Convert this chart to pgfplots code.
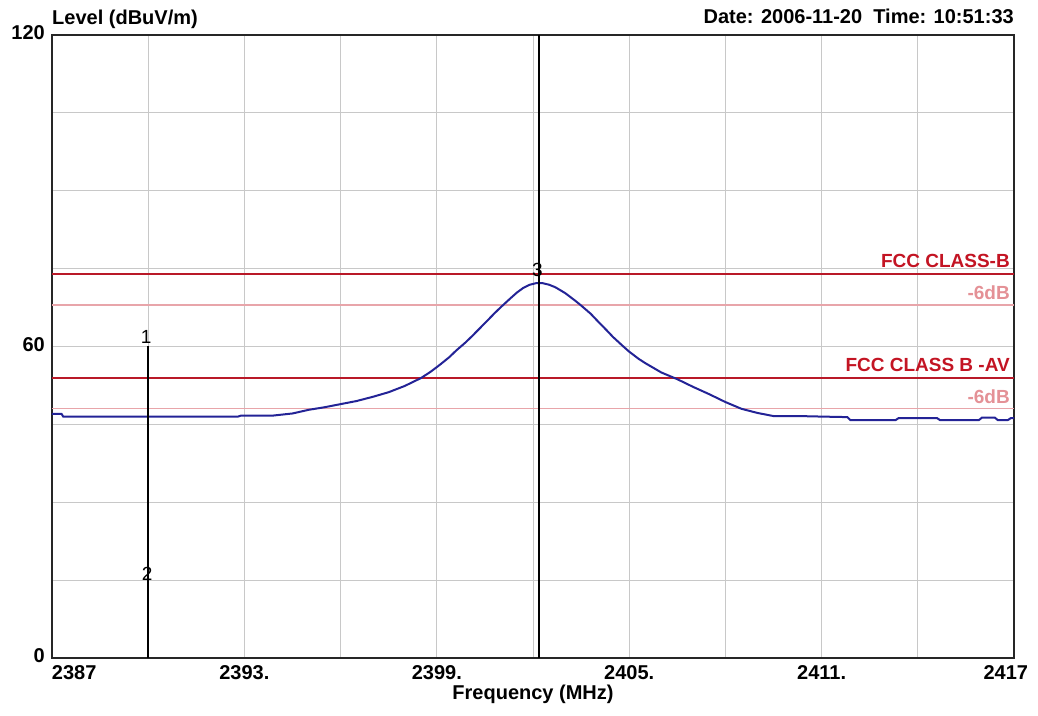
\documentclass[border=0pt]{standalone}
\usepackage{pgfplots}
\pgfplotsset{compat=1.18}
\usepackage{fontspec}
\setmainfont{Liberation Sans}
\definecolor{fccred}{RGB}{185,25,40}
\definecolor{fccredtext}{RGB}{195,20,35}
\definecolor{fccpink}{RGB}{232,165,170}
\definecolor{fccpinktext}{RGB}{228,145,150}
\definecolor{navycurve}{RGB}{35,35,150}
\definecolor{gridgray}{RGB}{200,200,200}
\begin{document}
\begin{tikzpicture}
\useasboundingbox (-52pt,-57pt) rectangle (986pt,658pt);
\begin{axis}[
  at={(0pt,0pt)}, anchor=south west,
  scale only axis, width=962pt, height=623pt,
  xmin=2387, xmax=2417, ymin=0, ymax=120,
  xtick={2387,2390,...,2417},
  xticklabels={,,2393.,,2399.,,2405.,,2411.,,},
  extra x ticks={2387,2417},
  extra x tick labels={\rlap{2387},\llap{2417\hspace{-14pt}}},
  extra x tick style={grid=none},
  ytick={0,15,...,120},
  yticklabels={0,,,,60,,,,120},
  major tick length=0pt,
  grid=major,
  grid style={gridgray, line width=1pt},
  axis line style={line width=1.8pt, black!85},
  tick label style={font=\fontsize{20}{22}\selectfont\bfseries, inner sep=0pt},
  xticklabel style={anchor=north, yshift=-7pt},
  yticklabel style={anchor=east, xshift=-7pt, yshift=2pt},
  no markers,
  clip=false,
]
\addplot[draw=fccred, line width=1.8pt] coordinates {(2387,74) (2417,74)};
\addplot[draw=fccpink, line width=1.3pt] coordinates {(2387,68) (2417,68)};
\addplot[draw=fccred, line width=1.8pt] coordinates {(2387,54) (2417,54)};
\addplot[draw=fccpink, line width=1.3pt] coordinates {(2387,48) (2417,48)};
\addplot[draw=navycurve, line width=2pt] coordinates {
(2387,47.0) (2387.3,47.0) (2387.35,46.5) (2392.8,46.5) (2392.9,46.7) (2393.9,46.7)
(2394.5,47.1) (2395.0,47.8) (2395.5,48.3) (2396.0,48.9) (2396.5,49.5) (2397.0,50.3)
(2397.5,51.2) (2398.0,52.4) (2398.5,53.9) (2398.8,55.1) (2399.1,56.5) (2399.4,58.0) (2399.6,59.2) (2399.9,60.8) (2400.1,62.0)
(2400.5,64.5) (2400.8,66.4) (2401.0,67.6) (2401.3,69.3) (2401.5,70.4) (2401.7,71.3) (2401.9,71.9) (2402.1,72.2) (2402.3,72.2) (2402.5,71.9)
(2402.7,71.4) (2403.0,70.3) (2403.3,68.9) (2403.5,67.9) (2403.8,66.3) (2404.0,65.0) (2404.3,63.1) (2404.5,61.8) (2404.8,60.1) (2405.0,59.0) (2405.3,57.6) (2405.5,56.8)
(2406.0,55.0) (2406.5,53.7) (2407.0,52.2) (2407.5,50.8) (2408.0,49.3) (2408.5,48.0)
(2409.0,47.2) (2409.5,46.6) (2410.3,46.6) (2411.0,46.5) (2411.8,46.4) (2411.9,45.8)
(2413.3,45.8) (2413.4,46.2) (2414.6,46.2) (2414.7,45.8) (2415.9,45.8) (2416.0,46.3)
(2416.4,46.3) (2416.5,45.8) (2416.8,45.8) (2416.9,46.2) (2417,46.2)
};
\addplot[draw=black, line width=2pt] coordinates {(2390,0) (2390,60)};
\addplot[draw=black, line width=2pt] coordinates {(2402.2,0) (2402.2,120)};
\node[anchor=south, inner sep=0pt, font=\fontsize{19}{21}\selectfont, xshift=-2pt, yshift=3pt] at (axis cs:2390,60) {1};
\node[anchor=center, inner sep=0pt, font=\fontsize{19}{21}\selectfont, xshift=-1pt] at (axis cs:2390,16.2) {2};
\node[anchor=south, inner sep=0pt, font=\fontsize{19}{21}\selectfont, xshift=-2pt] at (axis cs:2402.2,73.4) {3};
\node[anchor=base east, inner sep=0pt, font=\fontsize{19}{21}\selectfont\bfseries, text=fccredtext, xshift=-4pt, yshift=6pt] at (axis cs:2417,74) {FCC CLASS-B};
\node[anchor=base east, inner sep=0pt, font=\fontsize{19}{21}\selectfont\bfseries, text=fccpinktext, xshift=-4pt, yshift=5pt] at (axis cs:2417,68) {-6dB};
\node[anchor=base east, inner sep=0pt, font=\fontsize{19}{21}\selectfont\bfseries, text=fccredtext, xshift=-4pt, yshift=6pt] at (axis cs:2417,54) {FCC CLASS B -AV};
\node[anchor=base east, inner sep=0pt, font=\fontsize{19}{21}\selectfont\bfseries, text=fccpinktext, xshift=-4pt, yshift=5pt] at (axis cs:2417,48) {-6dB};
\node[anchor=base west, inner sep=0pt, font=\fontsize{20}{22}\selectfont\bfseries, yshift=10pt] at (rel axis cs:0,1) {Level (dBuV/m)};
\node[anchor=base east, inner sep=0pt, font=\fontsize{20}{22}\selectfont\bfseries, yshift=11pt] at (rel axis cs:1,1) {Date: 2006-11-20\ \ Time: 10:51:33};
\node[anchor=north, inner sep=0pt, font=\fontsize{20}{22}\selectfont\bfseries, yshift=-27pt] at (rel axis cs:0.5,0) {Frequency (MHz)};
\end{axis}
\end{tikzpicture}
\end{document}
